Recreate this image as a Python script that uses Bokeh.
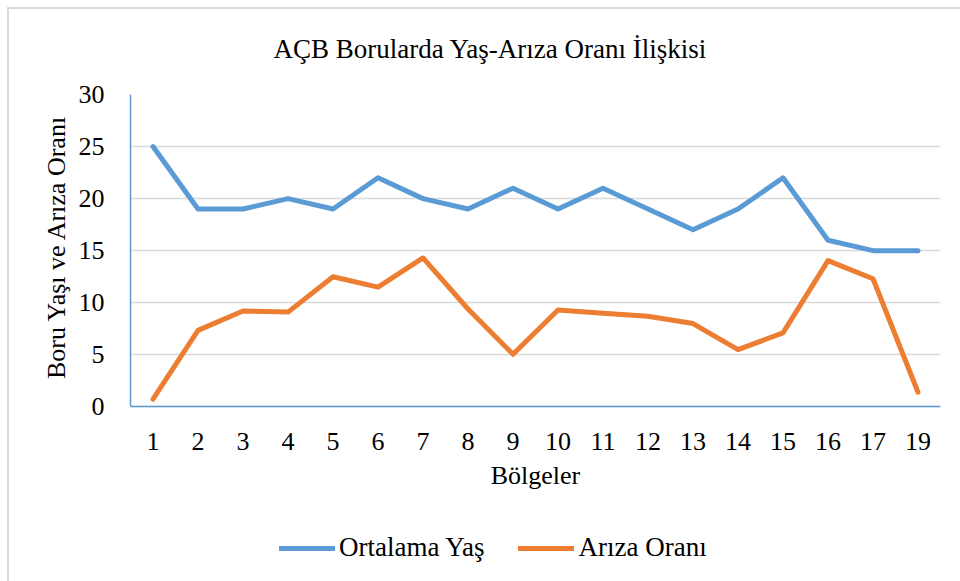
from bokeh.plotting import figure
from bokeh.models import (ColumnDataSource, FactorRange, Range1d, FixedTicker,
                          Legend, LegendItem, InlineStyleSheet, Title)
from bokeh.embed import file_html
from bokeh.resources import INLINE

# Regions (no region 18 in the survey)
bolgeler = ["1", "2", "3", "4", "5", "6", "7", "8", "9", "10",
            "11", "12", "13", "14", "15", "16", "17", "19"]
ortalama_yas = [25, 19, 19, 20, 19, 22, 20, 19, 21, 19,
                21, 19, 17, 19, 22, 16, 15, 15]
ariza_orani = [0.75, 7.35, 9.2, 9.1, 12.5, 11.5, 14.3, 9.4, 5.05, 9.3,
               9.0, 8.7, 8.0, 5.5, 7.1, 14.05, 12.3, 1.4]
y_ticks = [0, 5, 10, 15, 20, 25, 30]

FONT = "Liberation Serif"
BLUE = "#5B9BD5"
ORANGE = "#ED7D31"
GRID = "#D9D9D9"

# The frame runs down to the bottom of the canvas so that the legend can sit
# below the x axis; the value axis occupies 313 px for 0..30 and the rest of
# the frame (175 px) is the space under y = 0.
Y_MAX = 30
Y_MIN = -Y_MAX * 175 / 313

src = ColumnDataSource(data=dict(x=bolgeler, yas=ortalama_yas, ariza=ariza_orani))

# light frame line along the top and left of the chart area
frame_css = InlineStyleSheet(css="""
:host { position: relative; }
:host::before { content: ""; position: absolute; left: 7px; top: 7px;
                width: 953px; height: 2px; background: #D9D9D9; z-index: 10; }
:host::after  { content: ""; position: absolute; left: 7px; top: 7px;
                width: 2px; height: 574px; background: #D9D9D9; z-index: 10; }
""")

p = figure(width=960, height=581, output_backend="svg", toolbar_location=None,
           x_range=FactorRange(*bolgeler, range_padding=0),
           y_range=Range1d(Y_MIN, Y_MAX),
           min_border_left=130, min_border_right=20,
           min_border_top=93, min_border_bottom=0,
           title="AÇB Borularda Yaş-Arıza Oranı İlişkisi",
           stylesheets=[frame_css])

p.background_fill_color = "white"
p.border_fill_color = "white"
p.outline_line_color = None

# title
p.title.text_font = FONT
p.title.text_font_size = "27px"
p.title.text_font_style = "normal"
p.title.text_color = "#000000"
p.title.align = "left"
p.title.offset = 143
p.title.standoff = 62

# value-axis title, centred on the 0..30 span rather than the whole frame
ytitle = Title(text="Boru Yaşı ve Arıza Oranı", align="right", offset=20,
               standoff=9, text_font=FONT, text_font_size="26px",
               text_font_style="normal", text_color="#000000")
p.add_layout(ytitle, "left")

# grid
p.xgrid.grid_line_color = None
p.ygrid.grid_line_color = GRID
p.ygrid.grid_line_width = 1.5
p.ygrid.bounds = (0, Y_MAX)

# series
r_yas = p.line("x", "yas", source=src, line_color=BLUE, line_width=5,
               line_join="round", line_cap="round")
r_ariza = p.line("x", "ariza", source=src, line_color=ORANGE, line_width=5,
                 line_join="round", line_cap="round")

# axes
p.yaxis.ticker = FixedTicker(ticks=y_ticks)
p.yaxis.bounds = (0, Y_MAX)
p.xaxis.fixed_location = 0
for ax in (p.xaxis[0], p.yaxis[0]):
    ax.axis_line_color = BLUE
    ax.axis_line_width = 1.5
    ax.major_tick_line_color = None
    ax.minor_tick_line_color = None
    ax.major_label_text_font = FONT
    ax.major_label_text_font_size = "26px"
    ax.major_label_text_color = "#000000"
    ax.axis_label_text_font = FONT
    ax.axis_label_text_font_size = "26px"
    ax.axis_label_text_font_style = "normal"
    ax.axis_label_text_color = "#000000"

p.xaxis.axis_label = "Bölgeler"
p.xaxis.major_label_standoff = 20
p.xaxis.axis_label_standoff = 8
p.yaxis.major_label_standoff = 20

# legend under the axis title
legend = Legend(items=[LegendItem(label="Ortalama Yaş", renderers=[r_yas]),
                       LegendItem(label="Arıza Oranı", renderers=[r_ariza])],
                orientation="horizontal", location=(149, 18),
                padding=0, margin=0, spacing=34, label_standoff=4,
                glyph_width=56, glyph_height=26,
                border_line_color=None, background_fill_alpha=0)
legend.label_text_font = FONT
legend.label_text_font_size = "27px"
legend.label_text_color = "#000000"
p.add_layout(legend, "center")

open("out.html", "w").write(file_html(p, INLINE))
